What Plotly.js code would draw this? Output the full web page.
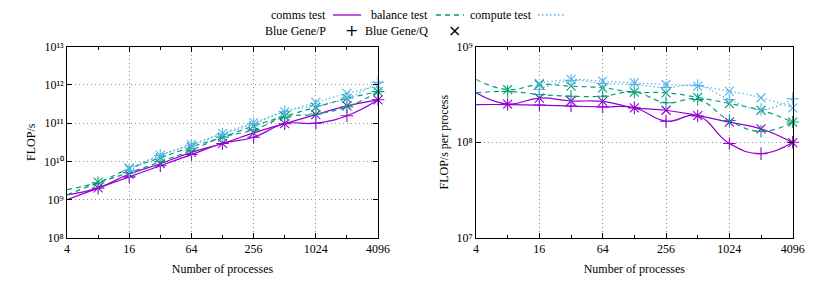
<!DOCTYPE html>
<html><head><meta charset="utf-8">
<script src="https://cdn.plot.ly/plotly-3.0.1.min.js"></script>
<style>html,body{margin:0;padding:0;background:#fff}#chart{width:830px;height:290px}</style>
</head><body><div id="chart"></div>
<script>
// ---- data ----
const processes = [4, 8, 16, 32, 64, 128, 256, 512, 1024, 2048, 4096];
const computeProcesses = [16, 32, 64, 128, 256, 512, 1024, 2048, 4096];

// total FLOP/s (left panel)
const commsP_total   = [9.9e8, 1.98e9, 3.92e9, 7.65e9, 1.50e10, 2.93e10, 4.25e10, 9.63e10, 9.93e10, 1.56e11, 4.10e11];
const commsQ_total   = [1.32e9, 2.01e9, 4.64e9, 8.64e9, 1.71e10, 2.93e10, 5.53e10, 9.73e10, 1.66e11, 2.83e11, 4.06e11];
const balanceP_total = [1.32e9, 2.72e9, 5.06e9, 9.70e9, 1.94e10, 4.29e10, 6.63e10, 1.43e11, 1.73e11, 2.66e11, 6.68e11];
const balanceQ_total = [1.82e9, 2.85e9, 6.43e9, 1.24e10, 2.37e10, 4.28e10, 8.42e10, 1.51e11, 2.60e11, 4.42e11, 6.64e11];
const computeP_total = [5.70e9, 1.42e10, 2.64e10, 5.15e10, 9.57e10, 2.01e11, 2.87e11, 4.51e11, 1.17e12];
const computeQ_total = [6.59e9, 1.45e10, 2.78e10, 5.36e10, 1.03e11, 1.98e11, 3.50e11, 5.98e11, 9.38e11];

// FLOP/s per process (right panel)
const commsP_pp   = [2.48e8, 2.48e8, 2.45e8, 2.39e8, 2.34e8, 2.29e8, 1.66e8, 1.88e8, 0.97e8, 0.76e8, 1.00e8];
const commsQ_pp   = [3.29e8, 2.51e8, 2.90e8, 2.70e8, 2.67e8, 2.29e8, 2.16e8, 1.90e8, 1.62e8, 1.38e8, 0.99e8];
const balanceP_pp = [3.29e8, 3.40e8, 3.16e8, 3.03e8, 3.03e8, 3.35e8, 2.59e8, 2.80e8, 1.69e8, 1.30e8, 1.63e8];
const balanceQ_pp = [4.54e8, 3.56e8, 4.02e8, 3.86e8, 3.71e8, 3.34e8, 3.29e8, 2.94e8, 2.54e8, 2.16e8, 1.62e8];
const computeP_pp = [3.56e8, 4.43e8, 4.12e8, 4.02e8, 3.74e8, 3.92e8, 2.80e8, 2.20e8, 2.85e8];
const computeQ_pp = [4.12e8, 4.54e8, 4.35e8, 4.19e8, 4.02e8, 3.86e8, 3.42e8, 2.92e8, 2.29e8];

// ticks and labels
const xTickVals = [4, 16, 64, 256, 1024, 4096];
const xTickText = ['4', '16', '64', '256', '1024', '4096'];
const xMinorVals = [8, 32, 128, 512, 2048];
const yLeftVals = [1e8, 1e9, 1e10, 1e11, 1e12, 1e13];
const yLeftText = ['10⁸', '10⁹', '10¹⁰', '10¹¹', '10¹²', '10¹³'];
const yRightVals = [1e7, 1e8, 1e9];
const yRightText = ['10⁷', '10⁸', '10⁹'];
const testNames = ['comms test', 'balance test', 'compute test'];
const machineNames = ['Blue Gene/P', 'Blue Gene/Q'];
const xTitle = 'Number of processes';
const yLeftTitle = 'FLOP/s';
const yRightTitle = 'FLOP/s per process';

// ---- styles ----
const FONT = 'Liberation Serif, Times New Roman, serif';
const C_COMMS = '#9400d3', C_BAL = '#009e73', C_COMP = '#56b4e9';
const DASH = {comms: 'solid', balance: '5px,4px', compute: '1.5px,2.5px'};

function series(x, y, color, dash, symbol, xa, ya) {
  return {
    x: x, y: y, xaxis: xa, yaxis: ya, type: 'scatter', mode: 'lines+markers',
    line: {color: color, width: 1.2, dash: dash, shape: 'spline', smoothing: 1.3},
    marker: {symbol: symbol, size: 9, color: color, line: {color: color, width: 1.1}},
    cliponaxis: false, showlegend: false, hoverinfo: 'skip'
  };
}
const P = 'cross-thin-open', Q = 'x-thin-open';
const traces = [
  series(processes, commsP_total, C_COMMS, DASH.comms, P, 'x', 'y'),
  series(processes, commsQ_total, C_COMMS, DASH.comms, Q, 'x', 'y'),
  series(processes, balanceP_total, C_BAL, DASH.balance, P, 'x', 'y'),
  series(processes, balanceQ_total, C_BAL, DASH.balance, Q, 'x', 'y'),
  series(computeProcesses, computeP_total, C_COMP, DASH.compute, P, 'x', 'y'),
  series(computeProcesses, computeQ_total, C_COMP, DASH.compute, Q, 'x', 'y'),
  series(processes, commsP_pp, C_COMMS, DASH.comms, P, 'x2', 'y2'),
  series(processes, commsQ_pp, C_COMMS, DASH.comms, Q, 'x2', 'y2'),
  series(processes, balanceP_pp, C_BAL, DASH.balance, P, 'x2', 'y2'),
  series(processes, balanceQ_pp, C_BAL, DASH.balance, Q, 'x2', 'y2'),
  series(computeProcesses, computeP_pp, C_COMP, DASH.compute, P, 'x2', 'y2'),
  series(computeProcesses, computeQ_pp, C_COMP, DASH.compute, Q, 'x2', 'y2')
];

const W = 830, H = 290;
const plotTop = 46.7, plotBottom = 237.7;
const yDom = [1 - plotBottom / H, 1 - plotTop / H];

function axis(extra) {
  return Object.assign({
    type: 'log', showline: true, linecolor: '#000', linewidth: 1, mirror: 'allticks',
    ticks: 'inside', ticklen: 5, tickcolor: '#000', tickwidth: 1,
    showgrid: true, gridcolor: '#909090', griddash: '1px,3px', gridwidth: 1, zeroline: false,
    tickfont: {family: FONT, size: 12, color: '#000'}, fixedrange: true, automargin: false
  }, extra);
}
const xCommon = {
  range: [Math.log10(4), Math.log10(4096)], tickmode: 'array', tickvals: xTickVals, ticktext: xTickText,
  minor: {tickvals: xMinorVals, ticks: 'inside', ticklen: 3, tickcolor: '#000', showgrid: false},
  title: {text: xTitle, font: {family: FONT, size: 12, color: '#000'}, standoff: 9}
};

const legendFont = {family: FONT, size: 12, color: '#000'};
const row1 = 1 - 15 / H, row2 = 1 - 31 / H;
const colTextEnd = [328, 430, 534];
const colSample = [[333, 361], [436, 464], [538, 566]];
const annotations = [];
const shapes = [];
const sampleColors = [C_COMMS, C_BAL, C_COMP];
const sampleDash = [DASH.comms, DASH.balance, DASH.compute];
for (let i = 0; i < 3; i++) {
  annotations.push({xref: 'paper', yref: 'paper', x: colTextEnd[i] / W, y: row1, xanchor: 'right', yanchor: 'middle',
    text: testNames[i], showarrow: false, font: legendFont});
  shapes.push({type: 'line', xref: 'paper', yref: 'paper', x0: colSample[i][0] / W, x1: colSample[i][1] / W, y0: row1, y1: row1,
    line: {color: sampleColors[i], width: 1.3, dash: sampleDash[i]}});
}
const machineSymbols = ['+', '×'];
for (let i = 0; i < 2; i++) {
  annotations.push({xref: 'paper', yref: 'paper', x: colTextEnd[i] / W, y: row2, xanchor: 'right', yanchor: 'middle',
    text: machineNames[i], showarrow: false, font: legendFont});
  annotations.push({xref: 'paper', yref: 'paper', x: ((colSample[i][0] + colSample[i][1]) / 2 + 4) / W, y: row2, xanchor: 'center', yanchor: 'middle',
    text: machineSymbols[i], showarrow: false, font: {family: 'DejaVu Sans, sans-serif', size: 16, color: '#000'}});
}

const layout = {
  width: W, height: H, margin: {l: 0, r: 0, t: 0, b: 0},
  paper_bgcolor: '#fff', plot_bgcolor: '#fff', showlegend: false,
  font: {family: FONT, size: 12, color: '#000'},
  xaxis: axis(Object.assign({domain: [67 / W, 378 / W], anchor: 'y'}, xCommon)),
  yaxis: axis({domain: yDom, anchor: 'x', range: [8, 13], tickmode: 'array', tickvals: yLeftVals, ticktext: yLeftText,
    title: {text: yLeftTitle, font: {family: FONT, size: 12, color: '#000'}, standoff: 5}}),
  xaxis2: axis(Object.assign({domain: [476 / W, 792.7 / W], anchor: 'y2'}, xCommon)),
  yaxis2: axis({domain: yDom, anchor: 'x2', range: [7, 9], tickmode: 'array', tickvals: yRightVals, ticktext: yRightText,
    title: {text: yRightTitle, font: {family: FONT, size: 12, color: '#000'}, standoff: 5}}),
  annotations: annotations, shapes: shapes
};

Plotly.newPlot('chart', traces, layout, {displayModeBar: false, staticPlot: true});
</script>
</body></html>
